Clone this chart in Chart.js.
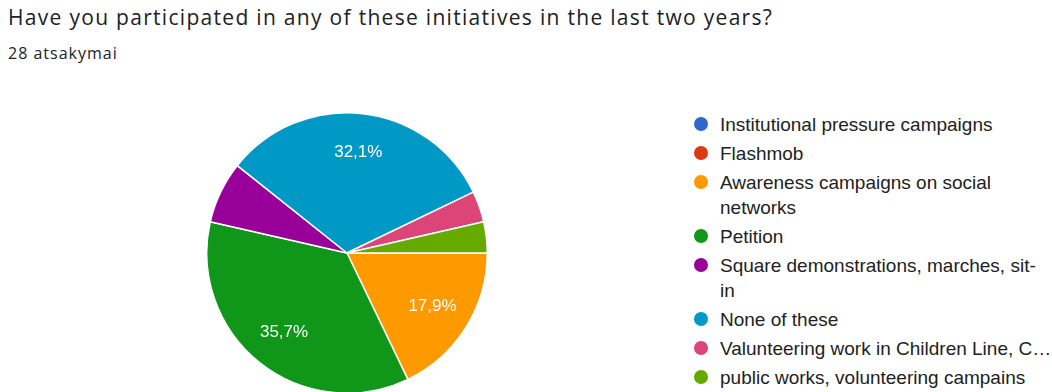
<!DOCTYPE html>
<html>
<head>
<meta charset="utf-8">
<script src="https://cdn.jsdelivr.net/npm/chart.js@4.4.0/dist/chart.umd.min.js"></script>
<style>
  html, body { margin: 0; padding: 0; background: #fff; width: 1052px; height: 392px; overflow: hidden; }
  #title { position: absolute; left: 8px; top: 3px; font: 21px "Open Sans", sans-serif; letter-spacing: 1.3px; color: #202124; white-space: nowrap; }
  #subtitle { position: absolute; left: 8px; top: 42px; font: 16px "Open Sans", sans-serif; letter-spacing: 1px; color: #202124; }
  #pieBox { position: absolute; left: 206px; top: 112px; width: 282px; height: 282px; }
  #legend { position: absolute; left: 692px; top: 112px; width: 354px; font: 19px "Liberation Sans", Arial, sans-serif; color: #222; }
  .item { position: relative; padding-left: 28px; line-height: 25px; margin-bottom: 4px; }
  .item.cut { white-space: nowrap; }
  .dot { position: absolute; left: 2px; top: 5px; width: 14px; height: 14px; border-radius: 50%; }
</style>
</head>
<body>
<div id="title">Have you participated in any of these initiatives in the last two years?</div>
<div id="subtitle">28 atsakymai</div>
<div id="pieBox"><canvas id="pie"></canvas></div>
<div id="legend"></div>
<script>
const categories = [
    'Institutional pressure campaigns',
    'Flashmob',
    'Awareness campaigns on social networks',
    'Petition',
    'Square demonstrations, marches, sit-in',
    'None of these',
    'Valunteering work in Children Line, C…',
    'public works, volunteering campains'
]
const responses = [0, 0, 5, 10, 2, 9, 1, 1]
const colors = ['#3366cc', '#dc3912', '#ff9900', '#109618', '#990099', '#0099c6', '#dd4477', '#66aa00']

// html legend, same order as the slices
const legend = document.getElementById('legend')
categories.forEach((name, i) => {
    const item = document.createElement('div')
    // already-shortened labels stay on one line
    item.className = name.endsWith('…') ? 'item cut' : 'item'
    item.innerHTML = '<span class="dot" style="background:' + colors[i] + '"></span>' + name
    legend.appendChild(item)
})

const total = responses.reduce((a, b) => a + b, 0)

// percentage text inside the bigger slices
const sliceLabels = {
    id: 'sliceLabels',
    afterDatasetsDraw(chart) {
        const ctx = chart.ctx
        const meta = chart.getDatasetMeta(0)
        ctx.save()
        ctx.fillStyle = '#fff'
        ctx.font = '17px "Liberation Sans", Arial, sans-serif'
        ctx.textAlign = 'center'
        ctx.textBaseline = 'middle'
        meta.data.forEach((arc, i) => {
            const share = responses[i] / total
            if (share < 0.1) return
            const mid = (arc.startAngle + arc.endAngle) / 2
            const r = arc.outerRadius * 0.72
            const txt = (share * 100).toFixed(1).replace('.', ',') + '%'
            ctx.fillText(txt, arc.x + Math.cos(mid) * r, arc.y + Math.sin(mid) * r)
        })
        ctx.restore()
    }
}

new Chart(document.getElementById('pie').getContext('2d'), {
    type: 'pie',
    data: {
        labels: categories,
        datasets: [{
            data: responses,
            backgroundColor: colors,
            borderColor: '#fff',
            borderWidth: 1.5
        }]
    },
    options: {
        responsive: true,
        maintainAspectRatio: false,
        animation: false,
        rotation: 90,
        plugins: {
            legend: { display: false },
            tooltip: { enabled: false }
        }
    },
    plugins: [sliceLabels]
})
</script>
</body>
</html>
